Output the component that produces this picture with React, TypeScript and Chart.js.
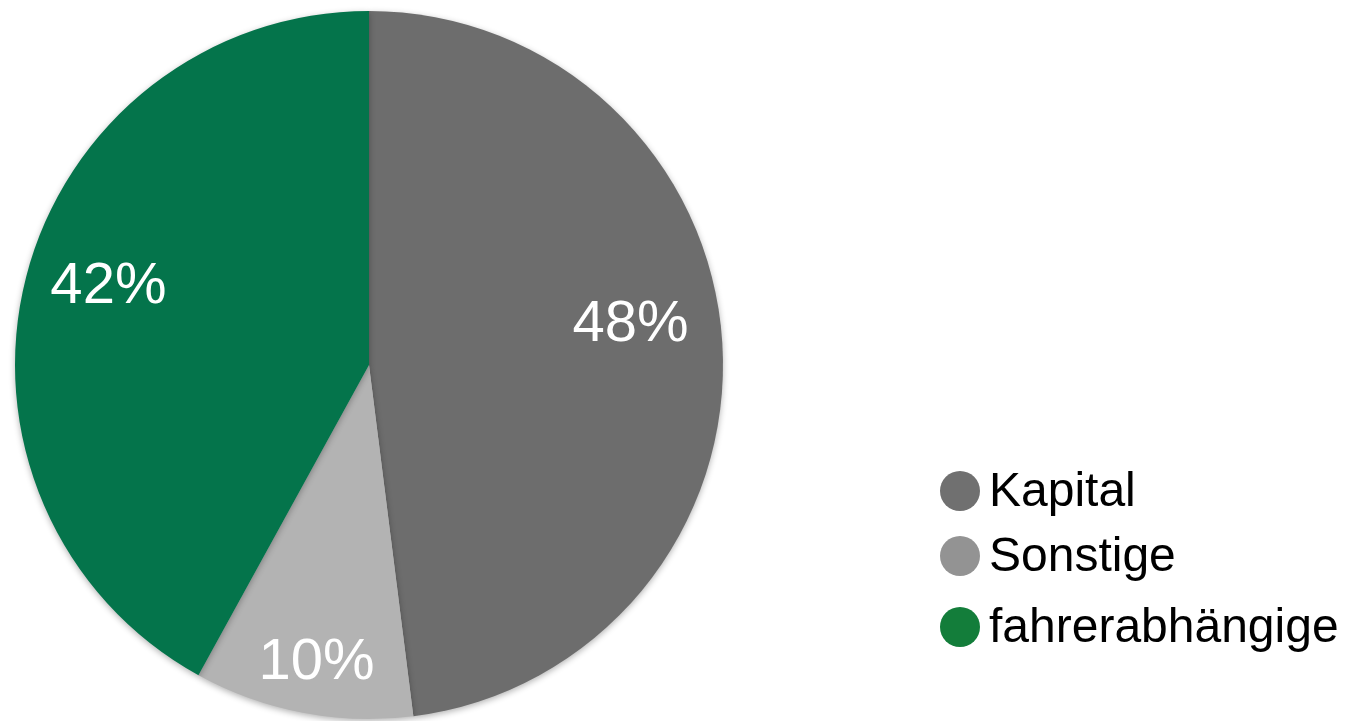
import React, { useEffect, useRef } from "react";
import { Chart, registerables } from "chart.js";

Chart.register(...registerables);

const categories = ["Kapital", "Sonstige", "fahrerabhängige"];
const shares = [48, 10, 42];
const sliceColors = ["#6d6d6d", "#b3b3b3", "#04744b"];
const legendColors = ["#707070", "#939393", "#137d3a"];
const labelRadius = [0.74, 0.85, 0.76];
const labelShift = [
  [0, -26],
  [4, 0],
  [0, -13],
];

const FONT = '"Liberation Sans", Arial, Helvetica, sans-serif';

const pieExtras = {
  id: "pieExtras",
  beforeDatasetsDraw(chart: any) {
    const ctx = chart.ctx;
    ctx.save();
    ctx.shadowColor = "rgba(0,0,0,0.3)";
    ctx.shadowBlur = 6;
    ctx.shadowOffsetY = 2;
  },
  afterDatasetsDraw(chart: any) {
    const ctx = chart.ctx;
    ctx.restore();
    const meta = chart.getDatasetMeta(0);
    ctx.save();
    ctx.fillStyle = "#ffffff";
    ctx.font = `58px ${FONT}`;
    ctx.textAlign = "center";
    ctx.textBaseline = "middle";
    meta.data.forEach((arc: any, i: number) => {
      const { x, y, startAngle, endAngle, outerRadius } = arc.getProps(
        ["x", "y", "startAngle", "endAngle", "outerRadius"],
        true
      );
      const mid = (startAngle + endAngle) / 2;
      const d = outerRadius * labelRadius[i];
      ctx.fillText(
        `${shares[i]}%`,
        x + Math.cos(mid) * d + labelShift[i][0],
        y + Math.sin(mid) * d + 2 + labelShift[i][1]
      );
    });
    ctx.restore();

    // legend
    ctx.save();
    ctx.font = `48px ${FONT}`;
    ctx.textBaseline = "middle";
    ctx.textAlign = "left";
    const legendY = [491, 556, 627];
    categories.forEach((c, i) => {
      ctx.fillStyle = legendColors[i];
      ctx.beginPath();
      ctx.arc(960, legendY[i], 20, 0, Math.PI * 2);
      ctx.fill();
      ctx.fillStyle = "#000000";
      ctx.fillText(c, 989, legendY[i] + 2);
    });
    ctx.restore();
  },
};

export default function App() {
  const ref = useRef<HTMLCanvasElement | null>(null);
  useEffect(() => {
    if (!ref.current) return;
    const chart = new Chart(ref.current, {
      type: "pie",
      data: {
        labels: categories,
        datasets: [
          {
            data: shares,
            backgroundColor: sliceColors,
            borderWidth: 0,
          },
        ],
      },
      options: {
        responsive: false,
        animation: false,
        devicePixelRatio: 1,
        layout: { padding: { left: 15, top: 11, right: 626, bottom: 2 } },
        plugins: {
          legend: { display: false },
          tooltip: { enabled: false },
        },
      },
      plugins: [pieExtras],
    });
    return () => chart.destroy();
  }, []);
  return (
    <div style={{ position: "absolute", left: 0, top: 0, width: 1349, height: 721, background: "#fff" }}>
      <canvas ref={ref} width={1349} height={721} style={{ width: 1349, height: 721 }} />
    </div>
  );
}
